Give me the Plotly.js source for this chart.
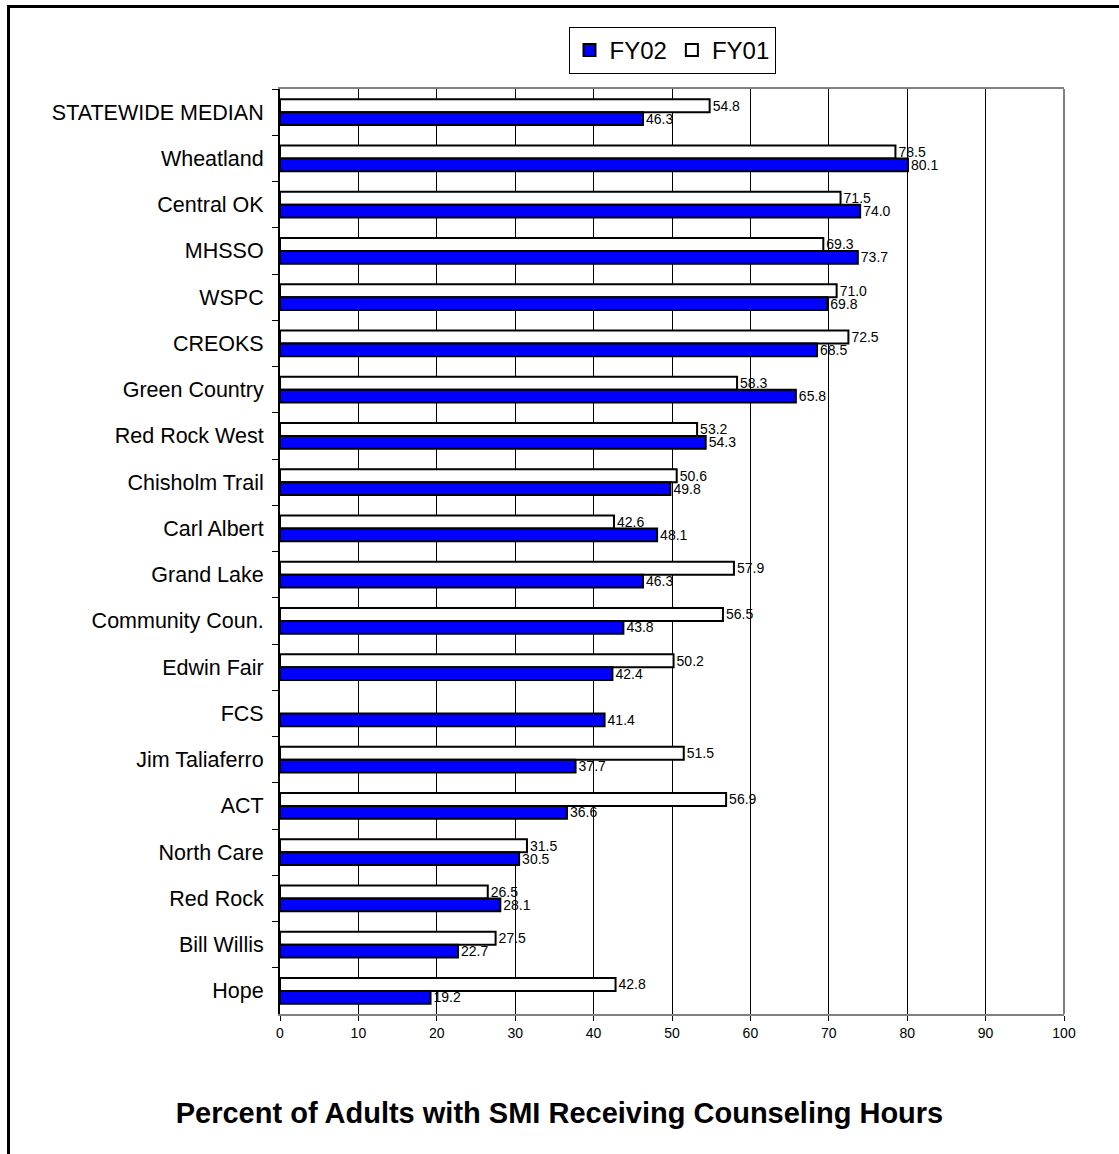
<!DOCTYPE html>
<html>
<head>
<meta charset="utf-8">
<script src="https://cdn.plot.ly/plotly-3.0.1.min.js"></script>
<style>
  html, body { margin: 0; padding: 0; background: #fff; }
  #chart { width: 1119px; height: 1154px; }
</style>
</head>
<body>
<div id="chart"></div>
<script>
const categories = [
  "STATEWIDE MEDIAN", "Wheatland", "Central OK", "MHSSO", "WSPC", "CREOKS",
  "Green Country", "Red Rock West", "Chisholm Trail", "Carl Albert", "Grand Lake",
  "Community Coun.", "Edwin Fair", "FCS", "Jim Taliaferro", "ACT", "North Care",
  "Red Rock", "Bill Willis", "Hope"
];
const fy01 = [54.8, 78.5, 71.5, 69.3, 71.0, 72.5, 58.3, 53.2, 50.6, 42.6, 57.9,
  56.5, 50.2, null, 51.5, 56.9, 31.5, 26.5, 27.5, 42.8];
const fy02 = [46.3, 80.1, 74.0, 73.7, 69.8, 68.5, 65.8, 54.3, 49.8, 48.1, 46.3,
  43.8, 42.4, 41.4, 37.7, 36.6, 30.5, 28.1, 22.7, 19.2];
const seriesNames = ["FY01", "FY02"];
const titleText = "Percent of Adults with SMI Receiving Counseling Hours";

const FONT = "Arial, 'Liberation Sans', sans-serif";

const traces = [
  {
    type: "bar", orientation: "h", name: seriesNames[0],
    y: categories, x: fy01,
    marker: { color: "#ffffff", line: { color: "#000000", width: 2 } },
    text: fy01.map(v => v === null ? "" : v.toFixed(1)),
    textposition: "outside", cliponaxis: false, constraintext: "none",
    textfont: { family: FONT, size: 14, color: "#000" },
    hoverinfo: "x+y"
  },
  {
    type: "bar", orientation: "h", name: seriesNames[1],
    y: categories, x: fy02,
    marker: { color: "#0000ff", line: { color: "#000000", width: 2 } },
    text: fy02.map(v => v.toFixed(1)),
    textposition: "outside", cliponaxis: false, constraintext: "none",
    textfont: { family: FONT, size: 14, color: "#000" },
    hoverinfo: "x+y"
  }
];

const layout = {
  width: 1119, height: 1154,
  margin: { l: 280, r: 55, t: 89, b: 140, pad: 0 },
  paper_bgcolor: "#ffffff", plot_bgcolor: "#ffffff",
  font: { family: FONT, color: "#000" },
  barmode: "group", bargap: 0.44, bargroupgap: 0,
  showlegend: true,
  legend: {
    orientation: "h", traceorder: "reversed",
    x: 0.5, xanchor: "center", y: 1 + (89 - 27) / 925, yanchor: "top",
    bordercolor: "#000", borderwidth: 1, bgcolor: "#fff",
    font: { family: FONT, size: 24, color: "#000" },
    itemwidth: 30, tracegroupgap: 0
  },
  title: {
    text: "<b>" + titleText + "</b>",
    font: { family: FONT, size: 29, color: "#000" },
    xref: "container", x: 0.5, xanchor: "center",
    yref: "container", y: 1 - 1113 / 1154, yanchor: "middle"
  },
  xaxis: {
    range: [0, 100], dtick: 10, tick0: 0,
    showgrid: true, gridcolor: "#000", gridwidth: 1,
    zeroline: false,
    showline: true, linecolor: "#808080", linewidth: 2, mirror: true,
    ticks: "outside", ticklen: 5, tickcolor: "#000", tickwidth: 1,
    tickfont: { family: FONT, size: 14, color: "#000" },
    fixedrange: true
  },
  yaxis: {
    type: "category", autorange: "reversed",
    showgrid: false, zeroline: false,
    showline: true, linecolor: "#000", linewidth: 2,
    ticks: "outside", ticklen: 6, tickcolor: "#000", tickwidth: 1,
    tickson: "boundaries",
    tickfont: { family: FONT, size: 21.5, color: "#000" },
    ticklabelstandoff: 10,
    fixedrange: true
  },
  shapes: [
    { type: "line", xref: "paper", yref: "paper", x0: 1, x1: 1, y0: 0, y1: 1,
      line: { color: "#808080", width: 2 } },
    { type: "line", xref: "paper", yref: "paper",
      x0: (8.5 - 280) / 784, x1: (8.5 - 280) / 784,
      y0: 1 + (89 - 5) / 925, y1: (1014 - 1170) / 925,
      line: { color: "#000", width: 3 } },
    { type: "line", xref: "paper", yref: "paper",
      x0: (7 - 280) / 784, x1: (1130 - 280) / 784,
      y0: 1 + (89 - 6.5) / 925, y1: 1 + (89 - 6.5) / 925,
      line: { color: "#000", width: 3 } }
  ]
};

Plotly.newPlot("chart", traces, layout, { displayModeBar: false, staticPlot: true });
</script>
</body>
</html>
